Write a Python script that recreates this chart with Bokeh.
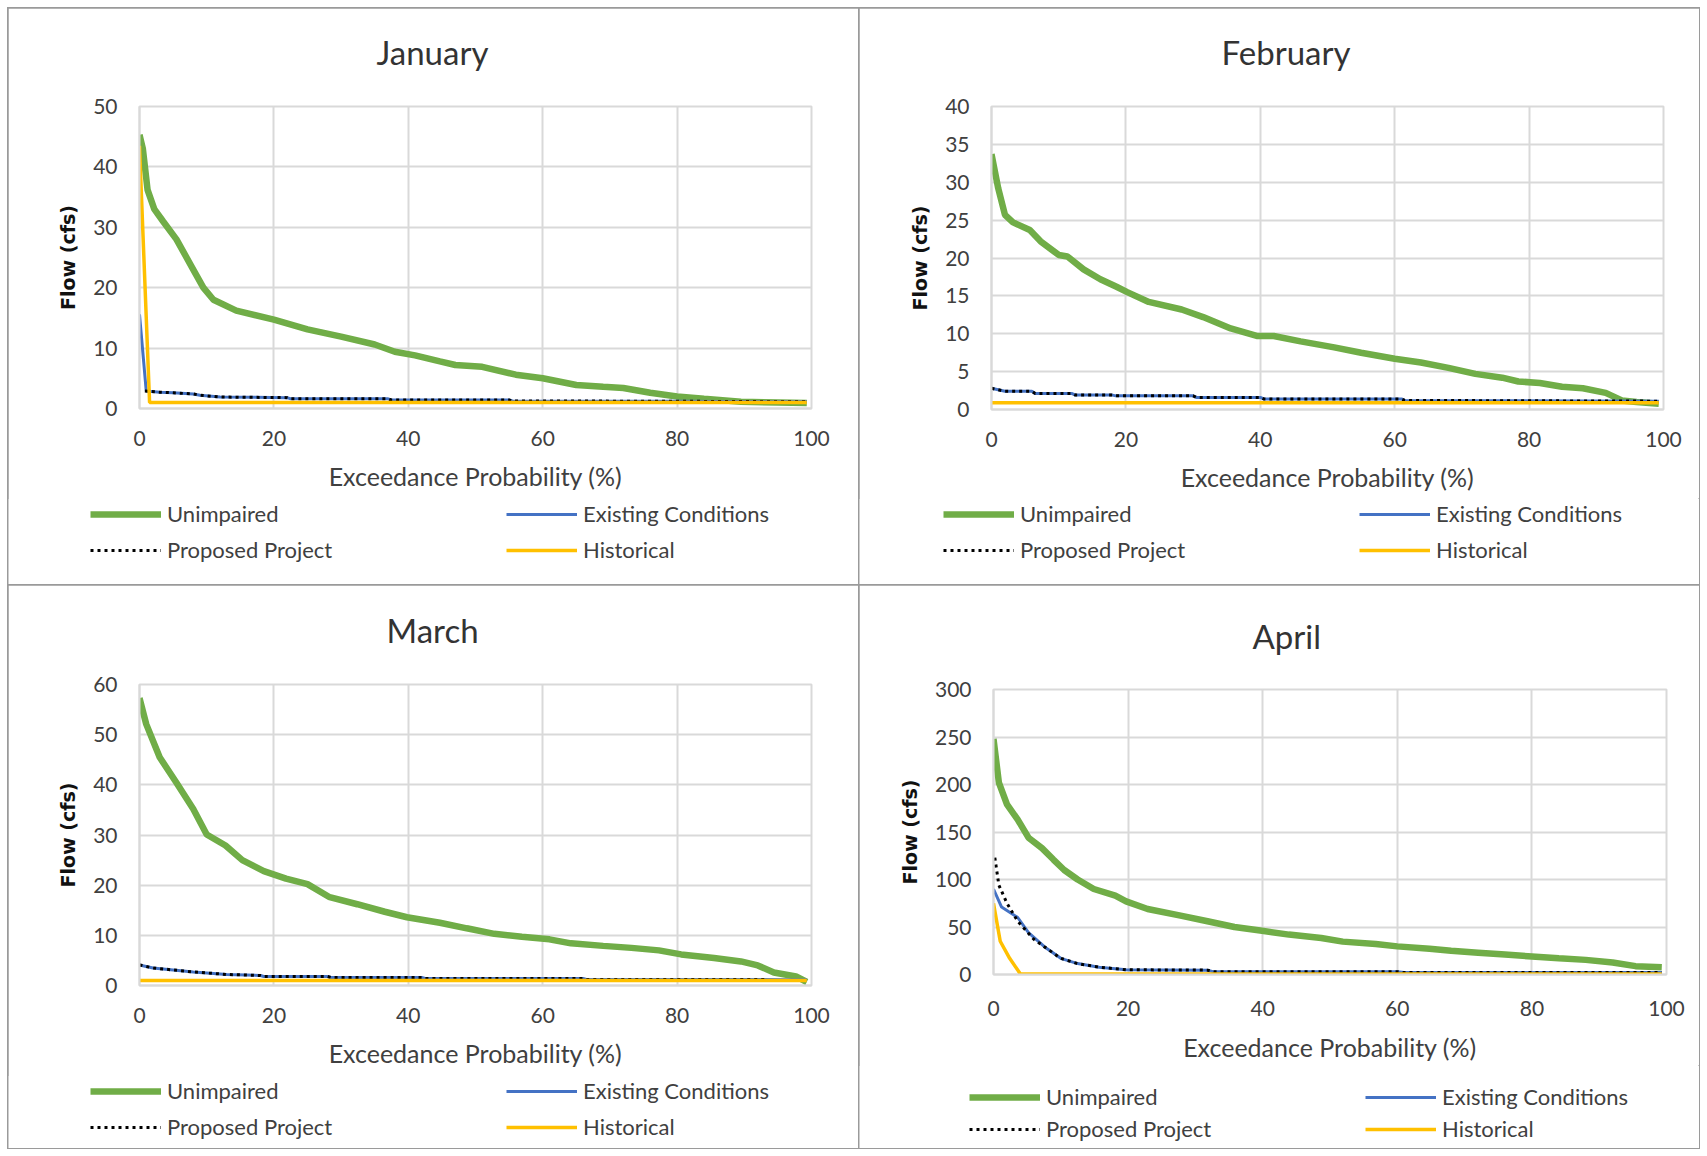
from bokeh.plotting import figure
from bokeh.models import Range1d, FixedTicker, Legend, LegendItem, Title
from bokeh.layouts import column, row
from bokeh.embed import file_html
from bokeh.resources import INLINE

# ---------------- DATA ----------------
x_ticks = [0, 20, 40, 60, 80, 100]
series_names = ["Unimpaired", "Existing Conditions", "Proposed Project", "Historical"]

# January
jan_unimp_x = [0, 0.5, 1.2, 2.2, 3.5, 5.5, 8, 9.5, 11, 14.4, 20, 25, 30, 35, 38, 41, 44.7, 47, 51, 56, 60, 65, 69, 72, 76, 80, 84, 89.5, 95, 99.3]
jan_unimp_y = [45.3, 43, 36.2, 33, 31, 28, 23, 20, 18, 16.2, 14.7, 13.1, 11.9, 10.6, 9.4, 8.8, 7.8, 7.2, 6.9, 5.6, 5.0, 3.9, 3.6, 3.4, 2.6, 2.0, 1.6, 1.1, 1.0, 0.9]
jan_exist_x = [0, 1, 3, 5, 8, 9, 12, 22, 22.5, 37, 37.5, 55, 55.5, 80, 99.3]
jan_exist_y = [15.6, 2.9, 2.7, 2.6, 2.4, 2.2, 1.9, 1.8, 1.6, 1.6, 1.4, 1.4, 1.25, 1.2, 1.1]
jan_prop_x = [0.8, 3, 5, 8, 9, 12, 22, 22.5, 37, 37.5, 55, 55.5, 80, 99.3]
jan_prop_y = [2.9, 2.7, 2.6, 2.4, 2.2, 1.9, 1.8, 1.6, 1.6, 1.4, 1.4, 1.25, 1.2, 1.1]
jan_hist_x = [0, 1.5, 99.3]
jan_hist_y = [43.5, 1.0, 1.0]

# February
feb_unimp_x = [0, 1, 2, 3.2, 5.7, 7.3, 10, 11.3, 13.7, 16.2, 18.6, 20.2, 23.4, 28.3, 31.5, 35.6, 39.6, 42, 46, 51, 55, 60, 63.9, 68, 72, 76, 78.4, 81.6, 84.9, 88, 91.4, 93.8, 96, 99.3]
feb_unimp_y = [33.7, 29.2, 25.7, 24.7, 23.7, 22.2, 20.4, 20.2, 18.5, 17.2, 16.2, 15.5, 14.2, 13.2, 12.2, 10.7, 9.7, 9.7, 9.0, 8.2, 7.5, 6.7, 6.2, 5.5, 4.7, 4.2, 3.7, 3.5, 3.0, 2.8, 2.2, 1.2, 1.0, 0.75]
feb_exist_x = [0, 2, 6, 6.5, 12, 12.5, 18, 18.5, 30, 30.5, 40, 40.5, 61, 61.5, 99.3]
feb_exist_y = [2.8, 2.4, 2.4, 2.1, 2.1, 1.9, 1.9, 1.8, 1.8, 1.6, 1.6, 1.4, 1.4, 1.2, 1.1]
feb_prop_x = [0, 2, 6, 6.5, 12, 12.5, 18, 18.5, 30, 30.5, 40, 40.5, 61, 61.5, 99.3]
feb_prop_y = [2.8, 2.4, 2.4, 2.1, 2.1, 1.9, 1.9, 1.8, 1.8, 1.6, 1.6, 1.4, 1.4, 1.2, 1.1]
feb_hist_x = [0, 99.3]
feb_hist_y = [0.9, 0.9]

# March
mar_unimp_x = [0, 1, 3, 5.5, 8, 10, 12.8, 15.3, 18.5, 21.8, 25, 28.3, 32.4, 36.5, 39.8, 44.7, 48.7, 52.8, 56.9, 61, 64.2, 69, 73.2, 77.3, 80.6, 85.5, 89.5, 92, 94.4, 97.7, 99.3]
mar_unimp_y = [57.3, 52.1, 45.5, 40.4, 35.2, 30.1, 27.9, 25.0, 22.8, 21.3, 20.2, 17.6, 16.2, 14.7, 13.6, 12.5, 11.4, 10.3, 9.7, 9.2, 8.4, 7.9, 7.5, 7.0, 6.2, 5.5, 4.8, 4.0, 2.6, 1.8, 0.7]
mar_exist_x = [0, 2, 5, 8, 10, 13, 18, 18.5, 28, 28.5, 42, 42.5, 66, 66.5, 93, 99.3]
mar_exist_y = [4.1, 3.5, 3.1, 2.7, 2.5, 2.2, 2.0, 1.8, 1.8, 1.6, 1.6, 1.4, 1.4, 1.2, 1.2, 1.1]
mar_prop_x = [0, 2, 5, 8, 10, 13, 18, 18.5, 28, 28.5, 42, 42.5, 66, 66.5, 93]
mar_prop_y = [4.1, 3.5, 3.1, 2.7, 2.5, 2.2, 2.0, 1.8, 1.8, 1.6, 1.6, 1.4, 1.4, 1.2, 1.2]
mar_hist_x = [0, 99.3]
mar_hist_y = [1.0, 1.0]

# April
apr_unimp_x = [0, 0.8, 2, 3.6, 5.2, 7.2, 8.9, 10.5, 12.5, 14.9, 18.1, 19.7, 22.9, 27.8, 31.8, 35.8, 39.9, 43.9, 48.7, 51.9, 56.8, 60, 64.8, 68, 72, 76, 80, 84, 88, 92, 95.4, 99.3]
apr_unimp_y = [248, 202, 179, 163, 144, 133, 121, 110, 100, 90, 83, 77, 69, 62, 56, 50, 46, 42, 38.5, 34.6, 32, 29.6, 27, 25, 23, 21, 19, 17, 15.4, 12.7, 8.8, 7.7]
apr_exist_x = [0, 1.2, 3.6, 5.2, 7.6, 10, 12.5, 15.7, 19.7, 31.8, 32.6, 60, 61, 99.3]
apr_exist_y = [90, 71, 60, 44, 29, 17, 11.5, 7.7, 5.0, 4.6, 3.0, 3.0, 2.0, 2.0]
apr_prop_x = [0.2, 0.8, 2, 3.6, 6, 7.6, 10, 12.5, 15.7, 19.7, 31.8, 32.6, 60, 61, 99.3]
apr_prop_y = [123, 94, 75, 56, 37, 29, 17, 11.5, 7.7, 5.0, 4.6, 3.0, 3.0, 2.0, 2.0]
apr_hist_x = [0, 1, 2.4, 4, 99.3]
apr_hist_y = [75, 35, 17, 0.5, 0.5]

# ---------------- STYLE ----------------
FONT = "Lato"
GREEN = "#70AD47"
BLUE = "#4472C4"
GOLD = "#FFC000"
TXT = "#404040"
GRID = "#d9d9d9"
LINE_STYLES = [dict(line_color=GREEN, line_width=6.5),
               dict(line_color=BLUE, line_width=3),
               dict(line_color="black", line_width=3, line_dash="3 4"),
               dict(line_color=GOLD, line_width=3.5)]
NAN = float("nan")


def make_panel(title, w, h, frame, ymax, ystep, data, title_offset, title_gap, leg_h, legend_cfg,
               tick_standoff=16, label_standoff=12):
    left, right, top, bottom = frame
    main_h = h - leg_h
    p = figure(width=w, height=main_h, output_backend="svg", toolbar_location=None,
               x_range=Range1d(0, 100), y_range=Range1d(0, ymax),
               min_border_left=left, min_border_right=w - right,
               min_border_top=top, min_border_bottom=main_h - bottom)
    p.frame_align = False
    p.background_fill_color = "white"
    p.border_fill_color = "white"
    p.outline_line_color = GRID
    p.outline_line_width = 2

    spacer_standoff, title_standoff = title_gap
    p.title.text = title
    p.title.align = "left"
    p.title.text_font = FONT
    p.title.text_font_size = "33px"
    p.title.text_font_style = "normal"
    p.title.text_color = "#333333"
    p.title.standoff = title_standoff
    p.title.offset = title_offset
    # small empty spacer between the title and the plot area
    p.add_layout(Title(text=" ", text_font_size="1px", standoff=spacer_standoff), "above")

    p.xaxis.ticker = FixedTicker(ticks=x_ticks)
    p.yaxis.ticker = FixedTicker(ticks=list(range(0, ymax + 1, ystep)))
    for ax in (p.xaxis[0], p.yaxis[0]):
        ax.axis_line_color = GRID
        ax.axis_line_width = 2
        ax.major_tick_line_color = None
        ax.minor_tick_line_color = None
        ax.major_label_text_font = FONT
        ax.major_label_text_font_size = "21px"
        ax.major_label_text_color = TXT
    p.xaxis.major_label_standoff = tick_standoff
    p.yaxis.major_label_standoff = 16
    p.xaxis.axis_label = "Exceedance Probability (%)"
    p.xaxis.axis_label_text_font = FONT
    p.xaxis.axis_label_text_font_size = "25px"
    p.xaxis.axis_label_text_font_style = "normal"
    p.xaxis.axis_label_text_color = TXT
    p.xaxis.axis_label_standoff = label_standoff
    p.yaxis.axis_label = "Flow (cfs)"
    p.yaxis.axis_label_text_font = "DejaVu Sans"
    p.yaxis.axis_label_text_font_size = "19px"
    p.yaxis.axis_label_text_font_style = "bold"
    p.yaxis.axis_label_text_color = "#111111"
    p.yaxis.axis_label_standoff = 11

    p.xgrid.grid_line_color = GRID
    p.ygrid.grid_line_color = GRID
    p.xgrid.grid_line_width = 2
    p.ygrid.grid_line_width = 2

    for (sx, sy), st in zip(data, LINE_STYLES):
        p.line(sx, sy, **st)

    # legend strip below the chart (same series styles; proxies hold no visible data)
    lg = figure(width=w, height=leg_h, output_backend="svg", toolbar_location=None,
                x_axis_type=None, y_axis_type=None, min_border=0,
                x_range=Range1d(0, 1), y_range=Range1d(0, 1))
    lg.frame_align = False
    lg.outline_line_color = None
    lg.grid.visible = False
    lg.background_fill_color = "white"
    lg.border_fill_color = "white"
    rends = [lg.line([NAN], [NAN], **st) for st in LINE_STYLES]
    lx, ly, spacing, label_width = legend_cfg
    items = [LegendItem(label=n, renderers=[r]) for n, r in zip(series_names, rends)]
    leg = Legend(items=items, location=(lx, ly), orientation="horizontal", ncols=2,
                 padding=0, margin=0, spacing=spacing, border_line_color=None,
                 background_fill_alpha=0, glyph_width=71, glyph_height=24,
                 label_height=24, label_width=label_width, label_standoff=6,
                 label_text_font=FONT, label_text_font_size="22px", label_text_color=TXT)
    lg.add_layout(leg, "center")

    c = column(p, lg, spacing=0)
    c.styles = {"outline": "2px solid #9a9a9a", "outline-offset": "-1px"}
    return c


jan = make_panel("January", 851, 577, (131, 803, 98, 400), 50, 10,
                 [(jan_unimp_x, jan_unimp_y), (jan_exist_x, jan_exist_y),
                  (jan_prop_x, jan_prop_y), (jan_hist_x, jan_hist_y)],
                 237, (12, 40), 87, (82, 22, 9, 330))
feb = make_panel("February", 840, 577, (132, 804, 98, 401), 40, 5,
                 [(feb_unimp_x, feb_unimp_y), (feb_exist_x, feb_exist_y),
                  (feb_prop_x, feb_prop_y), (feb_hist_x, feb_hist_y)],
                 230, (12, 40), 87, (84, 22, 9, 330))
mar = make_panel("March", 851, 563, (131, 803, 99, 400), 60, 10,
                 [(mar_unimp_x, mar_unimp_y), (mar_exist_x, mar_exist_y),
                  (mar_prop_x, mar_prop_y), (mar_hist_x, mar_hist_y)],
                 247, (11, 42), 73, (82, 8, 9, 330))
apr = make_panel("April", 840, 563, (134, 807, 104, 389), 300, 50,
                 [(apr_unimp_x, apr_unimp_y), (apr_exist_x, apr_exist_y),
                  (apr_prop_x, apr_prop_y), (apr_hist_x, apr_hist_y)],
                 259, (4, 54), 83, (110, 6, 5, 314), tick_standoff=20, label_standoff=13)

layout = column(row(jan, feb, spacing=0), row(mar, apr, spacing=0), spacing=0)
layout.margin = (8, 0, 0, 8)
open("out.html", "w").write(file_html(layout, INLINE))
